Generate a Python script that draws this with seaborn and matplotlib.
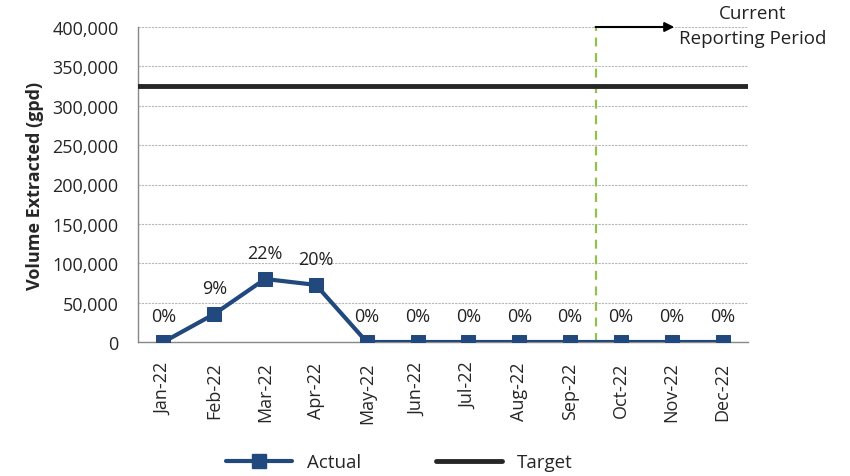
import pandas as pd
import matplotlib.pyplot as plt
import seaborn as sns
from matplotlib.lines import Line2D

months = ["Jan-22", "Feb-22", "Mar-22", "Apr-22", "May-22", "Jun-22",
          "Jul-22", "Aug-22", "Sep-22", "Oct-22", "Nov-22", "Dec-22"]
actual = [0, 35500, 80000, 72500, 0, 0, 0, 0, 0, 0, 0, 0]
pct_labels = ["0%", "9%", "22%", "20%", "0%", "0%", "0%", "0%", "0%", "0%", "0%", "0%"]
target = 325000
current_start = 8.5  # boundary between Sep-22 and Oct-22

sns.set_style("white")
plt.rcParams["font.family"] = ["Open Sans", "DejaVu Sans"]

df = pd.DataFrame({"pos": range(len(months)), "Actual": actual})

fig = plt.figure(figsize=(8.5, 4.77), dpi=100)
ax = fig.add_axes([138 / 850, 1 - 343 / 477, 610 / 850, 315 / 477])

blue = "#22497D"
ax.axhline(target, color="#262626", lw=3.5, zorder=3)
sns.lineplot(data=df, x="pos", y="Actual", ax=ax, color=blue, lw=3,
             marker="s", markersize=10, markeredgecolor=blue, zorder=4)

for i, (v, lab) in enumerate(zip(actual, pct_labels)):
    ax.annotate(lab, (i, v), xytext=(0, 18.5), textcoords="offset points",
                ha="center", va="center", fontsize=13, color="#222222")

ax.axvline(current_start, color="#92C050", lw=1.6, ls=(0, (4, 3)), zorder=2)
ax.annotate("", xy=(current_start + 1.55, 400000), xytext=(current_start, 400000),
            arrowprops=dict(arrowstyle="-|>", color="black", lw=1.5,
                            mutation_scale=14, shrinkA=0, shrinkB=0),
            annotation_clip=False, zorder=5)
ax.text(11.59, 402000, "Current\nReporting Period", ha="center", va="center",
        fontsize=13.5, color="#222222", linespacing=1.45, clip_on=False)

ax.set_xlim(-0.5, 11.5)
ax.set_ylim(0, 400000)
ax.set_yticks(range(0, 400001, 50000))
ax.set_yticklabels([f"{v:,}" for v in range(0, 400001, 50000)], fontsize=13)
ax.set_xticks(range(len(months)))
ax.set_xticklabels(months, rotation=90, fontsize=13)
ax.tick_params(axis="x", length=8, color="#888888", direction="inout", pad=10)
ax.tick_params(axis="y", length=0, pad=14)

ax.yaxis.grid(True, color="#B8B8B8", lw=0.8, ls=(0, (2, 1)))
ax.set_axisbelow(True)
for s in ["top", "right"]:
    ax.spines[s].set_visible(False)
for s in ["left", "bottom"]:
    ax.spines[s].set_color("#888888")
    ax.spines[s].set_linewidth(1)

ax.set_xlabel("")
ax.set_ylabel("Volume Extracted (gpd)", fontsize=13, fontweight="bold", labelpad=6)

handles = [Line2D([], [], color=blue, lw=3, marker="s", markersize=10),
           Line2D([], [], color="#262626", lw=3.5)]
fig.legend(handles, ["Actual", "Target"], loc="center", bbox_to_anchor=(0.47, 0.029),
           ncol=2, frameon=False, fontsize=13.5, handlelength=3.5,
           handletextpad=0.8, columnspacing=4)

fig.savefig("out.png", dpi=100)
